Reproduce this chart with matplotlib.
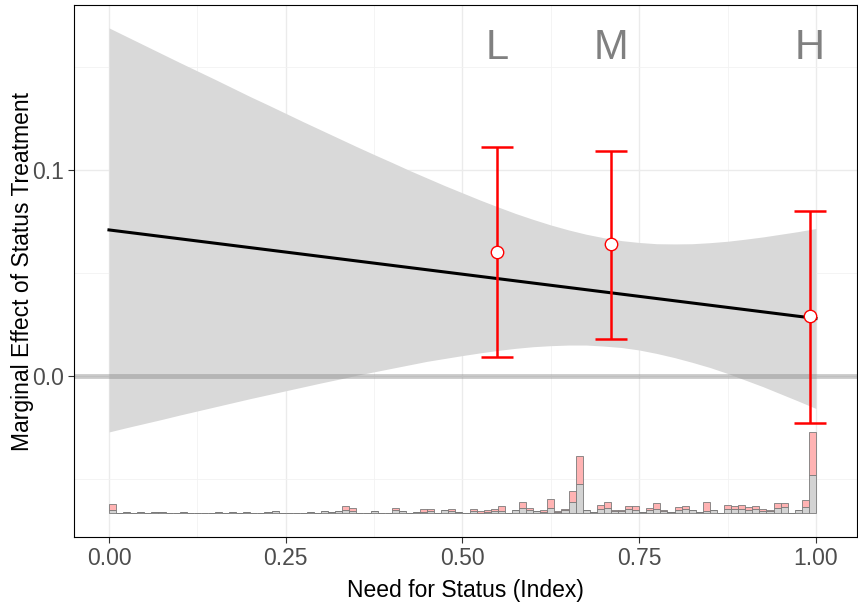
import numpy as np
import matplotlib.pyplot as plt

plt.rcParams['font.family'] = ['Liberation Sans', 'DejaVu Sans']

# confidence band of the linear marginal effect
band_x = [0.000, 0.025, 0.050, 0.075, 0.100, 0.125, 0.150, 0.175, 0.200, 0.225,
          0.250, 0.275, 0.300, 0.325, 0.350, 0.375, 0.400, 0.425, 0.450, 0.475,
          0.500, 0.525, 0.550, 0.575, 0.600, 0.625, 0.650, 0.675, 0.700, 0.725,
          0.750, 0.775, 0.800, 0.825, 0.850, 0.875, 0.900, 0.925, 0.950, 0.975, 1.000]
band_upper = [0.1690, 0.1648, 0.1606, 0.1564, 0.1522, 0.1481, 0.1440, 0.1398, 0.1356, 0.1316,
              0.1275, 0.1234, 0.1194, 0.1154, 0.1114, 0.1075, 0.1037, 0.0998, 0.0961, 0.0924,
              0.0889, 0.0854, 0.0821, 0.0789, 0.0760, 0.0733, 0.0709, 0.0688, 0.0671, 0.0657,
              0.0648, 0.0642, 0.0641, 0.0642, 0.0647, 0.0654, 0.0664, 0.0675, 0.0688, 0.0701, 0.0716]
band_lower = [-0.0272, -0.0251, -0.0231, -0.0211, -0.0190, -0.0170, -0.0150, -0.0130, -0.0110, -0.0091,
              -0.0072, -0.0053, -0.0034, -0.0016, 0.0003, 0.0020, 0.0037, 0.0054, 0.0071, 0.0085,
              0.0099, 0.0112, 0.0124, 0.0134, 0.0142, 0.0147, 0.0150, 0.0150, 0.0145, 0.0138,
              0.0126, 0.0109, 0.0089, 0.0066, 0.0041, 0.0012, -0.0020, -0.0052, -0.0087, -0.0122, -0.0158]

line_x = [0.0, 1.0]
line_y = [0.0709, 0.0279]

# binned estimates
bin_labels = ['L', 'M', 'H']
bin_x = [0.549, 0.710, 0.9915]
bin_est = [0.0602, 0.0641, 0.0291]
bin_lo = [0.0092, 0.0180, -0.0228]
bin_hi = [0.1110, 0.1092, 0.0800]

# histogram of the moderator, 100 bins of width 0.01 (control / treated)
control_counts = [3, 0, 1, 0, 1, 0, 1, 1, 0, 0,
                  1, 0, 0, 0, 0, 1, 0, 1, 0, 1,
                  0, 0, 1, 2, 0, 0, 0, 0, 1, 0,
                  2, 1, 2, 3, 2, 0, 0, 2, 0, 0,
                  3, 2, 0, 1, 1, 2, 0, 3, 2, 1,
                  0, 2, 0, 1, 2, 2, 0, 3, 5, 3,
                  2, 1, 5, 1, 3, 11, 29, 3, 1, 4,
                  5, 2, 2, 4, 3, 1, 3, 4, 2, 1,
                  3, 4, 3, 1, 2, 3, 0, 4, 4, 4,
                  3, 4, 2, 2, 5, 6, 0, 3, 6, 38]
treated_counts = [6, 0, 0, 0, 0, 0, 0, 0, 0, 0,
                  0, 0, 0, 0, 0, 0, 0, 0, 0, 0,
                  0, 0, 0, 0, 0, 0, 0, 0, 0, 0,
                  0, 0, 0, 4, 3, 0, 0, 0, 0, 0,
                  2, 0, 0, 0, 3, 2, 0, 0, 2, 0,
                  0, 2, 2, 2, 2, 5, 0, 0, 6, 2,
                  0, 2, 9, 1, 1, 11, 28, 0, 0, 4,
                  6, 1, 1, 3, 4, 0, 2, 6, 1, 0,
                  3, 3, 0, 0, 9, 0, 0, 4, 3, 4,
                  3, 3, 2, 1, 5, 4, 0, 0, 7, 43]
bin_width = 0.01

fig = plt.figure(figsize=(8.58, 6.05), dpi=100)
ax = fig.add_axes([0.0862, 0.1124, 0.9126, 0.8793])

ax.set_xlim(-0.0495, 1.058)
ax.set_ylim(-0.0782, 0.1801)

ax.set_xticks([0.0, 0.25, 0.5, 0.75, 1.0])
ax.set_xticklabels(['0.00', '0.25', '0.50', '0.75', '1.00'])
ax.set_xticks([0.125, 0.375, 0.625, 0.875], minor=True)
ax.set_yticks([0.0, 0.1])
ax.set_yticklabels(['0.0', '0.1'])
ax.set_yticks([-0.05, 0.05, 0.15], minor=True)
ax.grid(which='major', color='#EBEBEB', lw=1.0, zorder=0)
ax.grid(which='minor', color='#F2F2F2', lw=0.6, zorder=0)
ax.set_axisbelow(True)

ax.fill_between(band_x, band_lower, band_upper, color='#D9D9D9', lw=0, zorder=1)
ax.axhline(0, color='gray', alpha=0.4, lw=3.5, zorder=2)
ax.plot(line_x, line_y, color='black', lw=2.2, zorder=3)

# histogram at the bottom
hist_base = -0.0664
hist_scale = 0.0392 / 81
left = np.arange(len(control_counts)) * bin_width
ctrl = np.array(control_counts) * hist_scale
trt = np.array(treated_counts) * hist_scale
ax.bar(left, ctrl, width=bin_width, bottom=hist_base, align='edge',
       color='#D3D3D3', edgecolor='#7A7A7A', lw=0.6, zorder=4)
ax.bar(left, trt, width=bin_width, bottom=hist_base + ctrl, align='edge',
       color='#FFB3B3', edgecolor='#7A7A7A', lw=0.6, zorder=4)

est = np.array(bin_est)
ax.errorbar(bin_x, bin_est, yerr=[est - np.array(bin_lo), np.array(bin_hi) - est],
            fmt='none', ecolor='red', elinewidth=1.8, capsize=11.5, capthick=1.8, zorder=5)
ax.scatter(bin_x, bin_est, s=80, facecolor='white', edgecolor='red', lw=1.0, zorder=6)
for lab, xx in zip(bin_labels, bin_x):
    ax.text(xx, 0.159, lab, ha='center', va='center', fontsize=30, color='#808080', zorder=6)

for s in ax.spines.values():
    s.set_color('black')
    s.set_linewidth(0.8)
ax.tick_params(which='major', length=4, width=0.8, color='#333333',
               labelsize=16.5, labelcolor='#4D4D4D', pad=3)
ax.tick_params(which='minor', length=0)

ax.set_xlabel('Need for Status (Index)', fontsize=16.5, labelpad=7)
ax.set_ylabel('Marginal Effect of Status Treatment', fontsize=16.5, labelpad=-1)

fig.savefig('out.png', dpi=100)
